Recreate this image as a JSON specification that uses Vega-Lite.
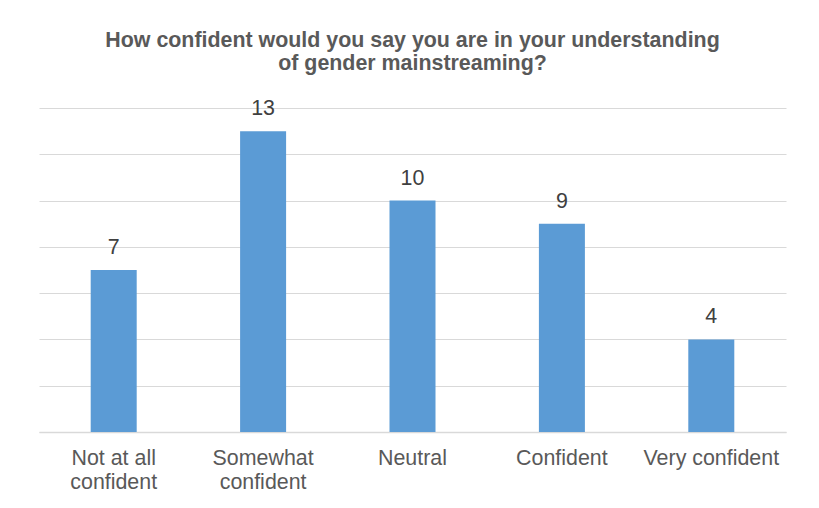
{
  "$schema": "https://vega.github.io/schema/vega-lite/v6.json",
  "autosize": {"type": "none"},
  "width": 747,
  "height": 324,
  "padding": {"left": 39, "top": 108, "right": 33, "bottom": 76},
  "background": "white",
  "title": {
    "text": ["How confident would you say you are in your understanding", "of gender mainstreaming?"],
    "font": "Liberation Sans",
    "fontSize": 21.4,
    "fontWeight": "bold",
    "color": "#595959",
    "lineHeight": 23,
    "anchor": "middle",
    "offset": 24
  },
  "data": {
    "values": [
      {"category": "Not at all confident", "count": 7},
      {"category": "Somewhat confident", "count": 13},
      {"category": "Neutral", "count": 10},
      {"category": "Confident", "count": 9},
      {"category": "Very confident", "count": 4}
    ]
  },
  "encoding": {
    "x": {
      "field": "category",
      "type": "nominal",
      "sort": null,
      "title": null,
      "axis": {
        "labelAngle": 0,
        "labelFont": "Liberation Sans",
        "labelFontSize": 21.4,
        "labelColor": "#595959",
        "labelLineHeight": 24,
        "labelPadding": 15,
        "labelLimit": 200,
        "ticks": false,
        "domainColor": "#d9d9d9",
        "domainWidth": 1.5,
        "labelExpr": "datum.value == 'Not at all confident' ? ['Not at all', 'confident'] : datum.value == 'Somewhat confident' ? ['Somewhat', 'confident'] : datum.value"
      }
    },
    "y": {
      "field": "count",
      "type": "quantitative",
      "scale": {"domain": [0, 14]},
      "axis": {
        "values": [0, 2, 4, 6, 8, 10, 12, 14],
        "labels": false,
        "ticks": false,
        "domain": false,
        "title": null,
        "gridColor": "#d9d9d9",
        "gridWidth": 1.2
      }
    }
  },
  "layer": [
    {"mark": {"type": "bar", "size": 46, "color": "#5B9BD5"}},
    {
      "mark": {"type": "text", "dy": -12, "baseline": "bottom", "font": "Liberation Sans", "fontSize": 21.4, "color": "#404040"},
      "encoding": {"text": {"field": "count", "type": "quantitative"}}
    }
  ],
  "config": {"view": {"stroke": null}}
}
